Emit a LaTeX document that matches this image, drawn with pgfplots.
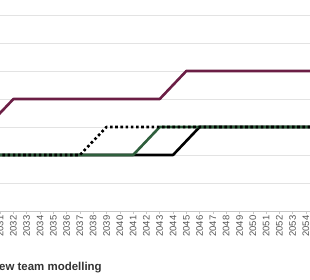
\documentclass[border=0pt]{standalone}
\usepackage{fontspec}
\setmainfont{Liberation Sans}
\usepackage{pgfplots}
\pgfplotsset{compat=1.18}
\definecolor{maroon}{HTML}{6B1E45}
\definecolor{dgreen}{HTML}{2E5E3C}
\definecolor{gridgrey}{HTML}{E3E3E3}
\definecolor{axgrey}{HTML}{C8C8C8}
\definecolor{labgrey}{HTML}{555555}
\begin{document}
\begin{tikzpicture}
\path[use as bounding box, clip] (0,-69bp) rectangle (310bp,211bp);
\begin{axis}[
  at={(0,0)}, anchor=south west,
  scale only axis, width=310bp, height=211bp,
  xmin=2030.99, xmax=2054.3, ymin=0, ymax=7.536,
  axis x line*=bottom, axis y line*=left,
  y axis line style={draw=none},
  x axis line style={draw=axgrey, line width=0.6bp},
  xtick={2031,...,2054},
  xtick align=outside,
  major tick length=3bp,
  xtick style={draw=axgrey, line width=0.5bp},
  xticklabel style={rotate=90, anchor=east, font=\fontsize{9.5}{10}\selectfont, text=labgrey, inner sep=1.5bp},
  /pgf/number format/assume math mode=true,
  /pgf/number format/1000 sep={},
  ytick={1,...,8}, yticklabels={}, ytick style={draw=none},
  ymajorgrids, grid style={gridgrey, line width=0.7bp},
  line join=round,
]
\addplot[maroon, line width=2.6bp] coordinates {(2030,3) (2032,4) (2043,4) (2045,5) (2056,5)};
\addplot[black, line width=2.6bp] coordinates {(2030,2) (2044,2) (2046,3) (2056,3)};
\addplot[dgreen, line width=2.6bp] coordinates {(2030,2) (2041,2) (2043,3) (2056,3)};
\addplot[black, line width=2.6bp, dash pattern=on 2.6bp off 2.6bp] coordinates {(2030,2) (2037,2) (2039,3) (2056,3)};
\end{axis}
\node[anchor=base west, inner sep=0pt, text=labgrey!60!black, font=\bfseries\fontsize{11.5}{13}\selectfont] at (-1bp,-59bp) {ew team modelling};
\end{tikzpicture}
\end{document}
